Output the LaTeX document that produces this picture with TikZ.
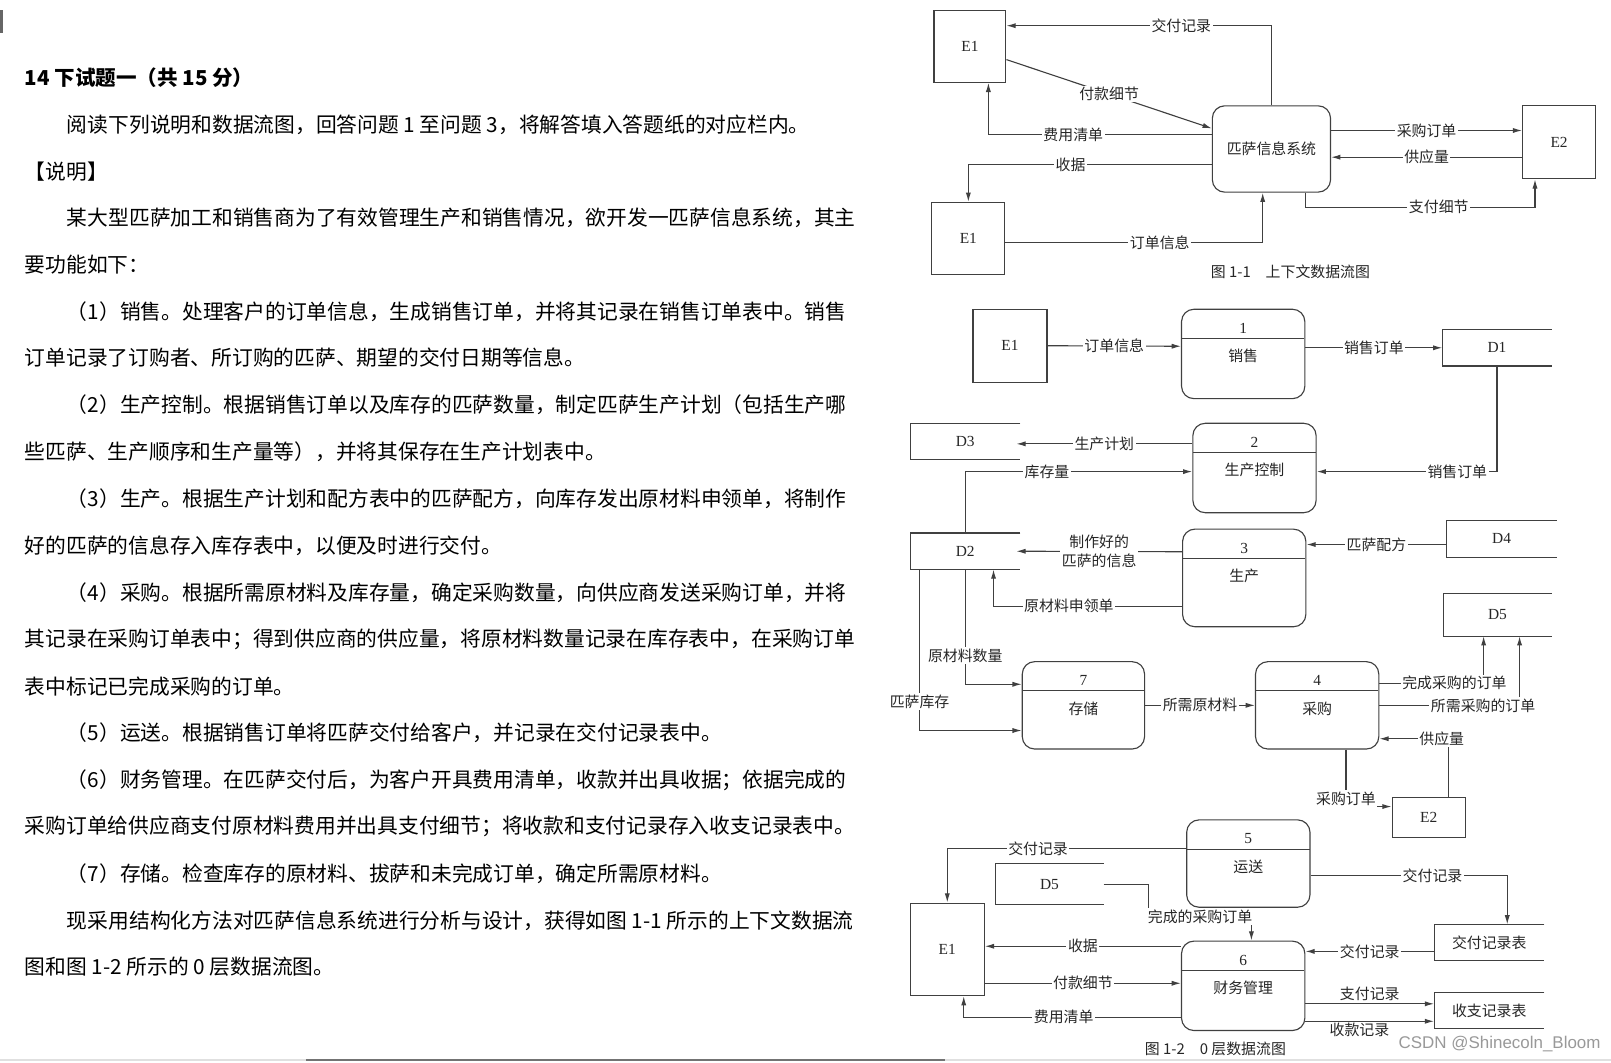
\documentclass[tikz,border=0pt]{standalone}
\usepackage{fontspec}
\setmainfont{Liberation Serif}
\setsansfont{Liberation Sans}
\newfontfamily\cjk{Noto Sans CJK SC}
\usetikzlibrary{arrows.meta, calc}
\definecolor{linec}{gray}{0.25}
\definecolor{txtc}{gray}{0.15}
\newcommand{\txtbody}{\cjk\fontsize{20.2}{24}\selectfont}
\newcommand{\txtflow}{\cjk\fontsize{14.5}{18}\selectfont}
\newcommand{\txtid}{\fontsize{15}{17}\selectfont}
\tikzset{
  para/.style={anchor=west, inner sep=0pt, font=\txtbody, text=black},
  proc/.style={rectangle, rounded corners=12pt, draw=linec, line width=1.1pt, inner sep=0pt},
  ent/.style={rectangle, draw=linec, line width=1.1pt, inner sep=0pt, font=\txtid, text=txtc},
  store/.style={rectangle, inner sep=0pt, font=\txtid, text=txtc},
  pnum/.style={inner sep=0pt, font=\txtid, text=txtc},
  pname/.style={inner sep=0pt, font=\txtflow, text=txtc},
  flow/.style={draw=linec, line width=1.1pt, -{Latex[length=9pt, width=5pt]}},
  wire/.style={draw=linec, line width=1.1pt},
  lbl/.style={fill=white, inner sep=1.5pt, font=\txtflow, text=txtc},
  figcap/.style={inner sep=0pt, font=\txtflow, text=txtc}
}

\begin{document}
\begin{tikzpicture}[x=1pt, y=-1pt]
  \fill[white] (0,0) rectangle (1568,1034);
  \useasboundingbox (0,0) rectangle (1568,1034);

  % question text
  \node[para, font=\cjk\bfseries\fontsize{20}{24}\selectfont] (title) at (24,76) {14 下试题一（共 15 分）};
  \node[para] (intro) at (65,121) {阅读下列说明和数据流图，回答问题 1 至问题 3，将解答填入答题纸的对应栏内。};
  \node[para] (head) at (24,167) {【说明】};
  \node[para] (t1) at (65,212) {某大型匹萨加工和销售商为了有效管理生产和销售情况，欲开发一匹萨信息系统，其主};
  \node[para] (t2) at (24,258) {要功能如下：};
  \node[para] (f1a) at (65,303) {（1）销售。处理客户的订单信息，生成销售订单，并将其记录在销售订单表中。销售};
  \node[para] (f1b) at (24,348) {订单记录了订购者、所订购的匹萨、期望的交付日期等信息。};
  \node[para] (f2a) at (65,394) {（2）生产控制。根据销售订单以及库存的匹萨数量，制定匹萨生产计划（包括生产哪};
  \node[para] (f2b) at (24,440) {些匹萨、生产顺序和生产量等），并将其保存在生产计划表中。};
  \node[para] (f3a) at (65,485) {（3）生产。根据生产计划和配方表中的匹萨配方，向库存发出原材料申领单，将制作};
  \node[para] (f3b) at (24,531) {好的匹萨的信息存入库存表中，以便及时进行交付。};
  \node[para] (f4a) at (65,577) {（4）采购。根据所需原材料及库存量，确定采购数量，向供应商发送采购订单，并将};
  \node[para] (f4b) at (24,622) {其记录在采购订单表中；得到供应商的供应量，将原材料数量记录在库存表中，在采购订单};
  \node[para] (f4c) at (24,668) {表中标记已完成采购的订单。};
  \node[para] (f5) at (65,713) {（5）运送。根据销售订单将匹萨交付给客户，并记录在交付记录表中。};
  \node[para] (f6a) at (65,759) {（6）财务管理。在匹萨交付后，为客户开具费用清单，收款并出具收据；依据完成的};
  \node[para] (f6b) at (24,804) {采购订单给供应商支付原材料费用并出具支付细节；将收款和支付记录存入收支记录表中。};
  \node[para] (f7) at (65,850) {（7）存储。检查库存的原材料、拔萨和未完成订单，确定所需原材料。};
  \node[para] (t3) at (65,896) {现采用结构化方法对匹萨信息系统进行分析与设计，获得如图 1-1 所示的上下文数据流};
  \node[para] (t4) at (24,941) {图和图 1-2 所示的 0 层数据流图。};

  % figure 1-1
  \node[ent, minimum width=70pt, minimum height=70pt] (e1a) at (944,45) {E1};
  \node[proc, minimum width=115pt, minimum height=84pt, font=\txtflow, text=txtc] (sys) at (1237.5,145) {匹萨信息系统};
  \node[ent, minimum width=71pt, minimum height=71pt] (e2a) at (1517.5,138.5) {E2};
  \node[ent, minimum width=71pt, minimum height=70pt] (e1b) at (942.5,232) {E1};

  \draw[flow] (sys.north) |- node[lbl, pos=0.67] (la1) {交付记录} ([yshift=20pt]e1a.east);
  \draw[flow] ([yshift=-13pt]e1a.east) -- node[lbl] (la2) {付款细节} ([yshift=20pt]sys.west);
  \draw[flow] ([yshift=14pt]sys.west) -| node[lbl, pos=0.31] (la3) {费用清单} ([xshift=18pt]e1a.south);
  \draw[flow] ([yshift=-15pt]sys.west) -| node[lbl, pos=0.29] (la4) {收据} (e1b.north);
  \draw[flow] ([yshift=-4pt]e1b.east) -| node[lbl, pos=0.3] (la5) {订单信息} ([xshift=-8.5pt]sys.south);
  \draw[flow] ([yshift=18pt]sys.east) -- node[lbl] (la6) {采购订单} ([yshift=11.5pt]e2a.west);
  \draw[flow] ([yshift=-14.5pt]e2a.west) -- node[lbl] (la7) {供应量} ([yshift=-8pt]sys.east);
  \draw[wire] ([xshift=33.5pt]sys.south) |- node[lbl, pos=0.79] (la8) {支付细节} ([xshift=-23.5pt, yshift=-27pt]e2a.south);
  \draw[flow] ([xshift=-23.5pt, yshift=-27.5pt]e2a.south) -- ([xshift=-23.5pt]e2a.south);
  \node[figcap] (cap1) at (1256,265) {图 1-1\quad 上下文数据流图};

  % figure 1-2
  \node[ent, minimum width=72pt, minimum height=71pt] (e1) at (983,336.5) {E1};
  \node[ent, minimum width=71pt, minimum height=39pt] (e2) at (1390.5,795.5) {E2};
  \node[ent, minimum width=72pt, minimum height=90pt] (e1c) at (922,924) {E1};

  \node[proc, minimum width=120pt, minimum height=87pt] (p1) at (1210,344.5) {};
  \node[proc, minimum width=120pt, minimum height=87pt] (p2) at (1221,455.5) {};
  \node[proc, minimum width=120pt, minimum height=95pt] (p3) at (1211,562.5) {};
  \node[proc, minimum width=120pt, minimum height=85pt] (p4) at (1282,686.5) {};
  \node[proc, minimum width=120pt, minimum height=85pt] (p5) at (1215,840.5) {};
  \node[proc, minimum width=120pt, minimum height=87pt] (p6) at (1210,959.5) {};
  \node[proc, minimum width=119pt, minimum height=85pt] (p7) at (1054.5,686.5) {};
  \foreach \p/\n/\t in {p1/1/销售, p2/2/生产控制, p3/3/生产, p4/4/采购, p5/5/运送, p6/6/财务管理, p7/7/存储} {
    \node[pnum] (\p-num) at ([yshift=-19pt]\p.north) {\n};
    \node[pname] (\p-name) at ([yshift=-46pt]\p.north) {\t};
    \draw[wire] ([xshift=1pt, yshift=-29pt]\p.north west) -- ([xshift=-1pt, yshift=-29pt]\p.north east);
  }

  \node[store, minimum width=106pt, minimum height=35pt] (d1) at (1457,338.5) {D1};
  \node[store, minimum width=107pt, minimum height=35pt] (d3) at (939.5,429.5) {D3};
  \node[store, minimum width=107pt, minimum height=35pt] (d2) at (939.5,536.5) {D2};
  \node[store, minimum width=107pt, minimum height=35pt] (d4) at (1461.5,524.5) {D4};
  \node[store, minimum width=105pt, minimum height=41pt] (d5) at (1457.5,598.5) {D5};
  \node[store, minimum width=105pt, minimum height=39pt] (d5b) at (1021.5,860.5) {D5};
  \node[store, minimum width=107pt, minimum height=35pt, font=\txtflow] (jfb) at (1449.5,917.5) {交付记录表};
  \node[store, minimum width=107pt, minimum height=35pt, font=\txtflow] (szb) at (1449.5,983.5) {收支记录表};
  \foreach \s in {d1,d2,d3,d4,d5,d5b,jfb,szb}
    \draw[wire] (\s.north east) -- (\s.north west) -- (\s.south west) -- (\s.south east);

  \draw[flow] (e1.east) -- node[lbl] (lb1) {订单信息} ([yshift=7.5pt]p1.west);
  \draw[flow] ([yshift=6pt]p1.east) -- node[lbl] (lb2) {销售订单} (d1.west);
  \draw[flow] (d1.south) |- node[lbl, pos=0.61] (lb3) {销售订单} ([yshift=-3.5pt]p2.east);
  \draw[flow] ([yshift=23.5pt]p2.west) -- node[lbl] (lb4) {生产计划} ([yshift=-2.5pt, xshift=-4pt]d3.east);
  \draw[flow] (d2.north) |- node[lbl, pos=0.68] (lb5) {库存量} ([yshift=-3.5pt]p2.west);
  \draw[flow] ([yshift=25.5pt]p3.west) -- node[lbl, align=center] (lb6) {制作好的\\匹萨的信息} ([xshift=-4pt]d2.east);
  \draw[flow] ([yshift=-27.5pt]p3.west) -| node[lbl, pos=0.3] (lb7) {原材料申领单} ([xshift=27.5pt]d2.south);
  \draw[flow] ([yshift=-5.5pt]d4.west) -- node[lbl] (lb8) {匹萨配方} ([yshift=32.5pt]p3.east);
  \draw[flow] (d2.south) |- node[lbl, pos=0.375] (lb9) {原材料数量} ([yshift=20.5pt]p7.west);
  \draw[flow] ([xshift=-44.5pt]d2.south) |- node[lbl, pos=0.41] (lb10) {匹萨库存} ([yshift=-24.5pt]p7.west);
  \draw[flow] (p7.east) -- node[lbl] (lb11) {所需原材料} (p4.west);
  \draw[flow] ([yshift=21.5pt]p4.east) -| node[lbl, pos=0.36] (lb12) {完成采购的订单} ([xshift=-13.5pt]d5.south);
  \draw[flow] (p4.east) -| node[lbl, pos=0.37] (lb13) {所需采购的订单} ([xshift=21.5pt]d5.south);
  \draw[flow] ([xshift=19.5pt]e2.north) |- node[lbl, pos=0.55] (lb14) {供应量} ([yshift=-32.5pt]p4.east);
  \draw[flow] ([xshift=28pt]p4.south) |- node[lbl, pos=0.43] (lb15) {采购订单} ([yshift=10.5pt]e2.west);
  \draw[flow] ([yshift=14.5pt]p5.west) -| node[lbl, pos=0.31] (lb16) {交付记录} (e1c.north);
  \draw[flow] ([yshift=-11.5pt]p5.east) -| node[lbl, pos=0.31] (lb17) {交付记录} ([xshift=17.5pt]jfb.north);
  \draw[flow] (d5b.east) -| ([xshift=-92pt, yshift=23pt]p6.north) -| node[lbl, pos=0.25] (lb18) {完成的采购订单} ([xshift=8pt]p6.north);
  \draw[flow] ([yshift=-8.5pt]jfb.west) -- node[lbl] (lb19) {交付记录} ([yshift=33.5pt]p6.east);
  \draw[flow] ([yshift=38.5pt]p6.west) -- node[lbl] (lb20) {收据} ([yshift=3pt]e1c.east);
  \draw[flow] ([yshift=-33pt]e1c.east) -- node[lbl] (lb21) {付款细节} ([yshift=2.5pt]p6.west);
  \draw[flow] ([yshift=-30.5pt]p6.west) -| node[lbl, pos=0.27] (lb22) {费用清单} ([xshift=16pt]e1c.south);
  \draw[flow] ([yshift=-17.5pt]p6.east) -- node[lbl, above=1pt] (lb23) {支付记录} ([yshift=6.5pt]szb.west);
  \draw[flow] ([yshift=-34.5pt]p6.east) -- node[lbl, below=0pt, pos=0.42] (lb24) {收款记录} ([yshift=-10.5pt]szb.west);
  \node[figcap] (cap2) at (1183,1021) {图 1-2\quad 0 层数据流图};

  % screenshot leftovers
  \node[anchor=east, inner sep=0pt, font=\sffamily\fontsize{16.5}{18}\selectfont, text=black!40] (mark) at (1558,1016) {CSDN @Shinecoln\_Bloom};
  \draw[black!12, line width=2pt] (0,1032) -- (1568,1032);
  \draw[black!55, line width=2pt] (298,1032) -- (920,1032);
  \draw[black!60, line width=2.5pt] (1.5,10) -- (1.5,32);
\end{tikzpicture}
\end{document}
